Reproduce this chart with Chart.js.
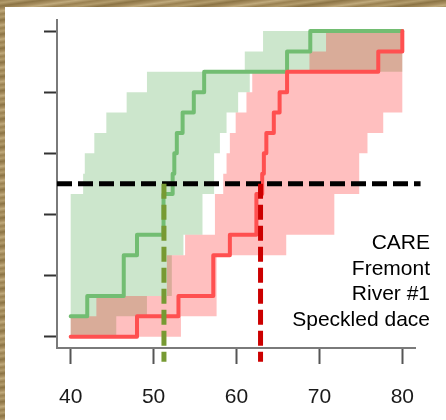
<!DOCTYPE html>
<html><head><meta charset="utf-8">
<script src="https://cdn.jsdelivr.net/npm/chart.js@4.4.0/dist/chart.umd.min.js"></script>
<style>
html,body{margin:0;padding:0;width:446px;height:420px;overflow:hidden;}
body{position:relative;background:#a38a5c;
 background-image:repeating-linear-gradient(172deg,#9a8151 0px,#b39c6c 3px,#8c7445 6px,#a88f60 9px,#c0aa7c 11px,#9a8151 14px);}
#paper{position:absolute;left:5px;top:7px;width:441px;height:413px;background:#fff;}
#c{position:absolute;left:0;top:0;}
#note{position:absolute;right:16px;top:229px;font:21px/25.7px "Liberation Sans",Arial,sans-serif;color:#000;text-align:right;white-space:nowrap;}
</style></head>
<body>
<div id="paper"></div>
<canvas id="c" width="446" height="420"></canvas>
<div id="note">CARE<br>Fremont<br>River #1<br>Speckled dace</div>
<script>
// ---- data (fish lengths, cumulative proportion in steps of 1/15) ----
const N = 15;
const xTicks = [40, 50, 60, 70, 80];
const yTicks = [0, 0.2, 0.4, 0.6, 0.8, 1.0];

// ECDF step lines: x where the step occurs, and count reached
const greenStepX = [40, 42.0, 46.4, 48.0, 51.2, 52.3, 52.5, 52.8, 53.5, 54.85, 56.1, 66.1, 68.9, 80];
const greenStepN = [1, 2, 4, 5, 7, 8, 9, 10, 11, 12, 13, 14, 15, 15];
const redStepX   = [40, 48.0, 53.0, 57.2, 59.2, 62.4, 63.1, 63.3, 63.6, 64.5, 65.2, 66.1, 77.1, 80];
const redStepN   = [0, 1, 2, 4, 5, 7, 8, 9, 10, 11, 12, 13, 14, 15];

// confidence bands: left and right x of each 1/15 strip (strip k spans k/15 .. (k+1)/15)
const greenBandLeft  = [40, 40, 40, 40, 40, 40, 40, 41.5, 41.7, 42.85, 44.3, 46.75, 49.2, 61.0, 63.2];
const greenBandRight = [45.5, 49.2, 52.2, 52.2, 53.6, 55.9, 55.9, 57.3, 57.3, 58.0, 58.8, 60.2, 61.6, 80, 80];
const redBandLeft    = [40, 43.1, 51.6, 51.6, 53.8, 57.4, 57.4, 58.4, 58.8, 59.2, 59.9, 61.2, 61.9, 68.8, 70.8];
const redBandRight   = [53.3, 57.6, 57.6, 57.6, 66.0, 71.8, 71.8, 74.8, 74.8, 75.8, 77.7, 80, 80, 80, 80];

// medians (length where cumulative proportion reaches 0.5)
const halfLevel = 0.5;
const greenMedian = 51.25;
const redMedian = 62.9;
const hLineRange = [38.35, 82.2];
const vLineBottom = -0.082;

// ---- build datasets ----
function stepPoints(xs, ns){ return xs.map((x,i)=>({x:x, y:ns[i]/N})); }
function bandPolygon(left, right){
  const pts=[];
  for(let k=0;k<left.length;k++){ pts.push({x:left[k],y:k/N}); pts.push({x:left[k],y:(k+1)/N}); }
  for(let k=right.length-1;k>=0;k--){ pts.push({x:right[k],y:(k+1)/N}); pts.push({x:right[k],y:k/N}); }
  return pts;
}
const none='rgba(0,0,0,0)';
const datasets=[
  {data:bandPolygon(greenBandLeft,greenBandRight), fill:'shape', backgroundColor:'rgba(0,128,0,0.2)', borderColor:none, borderWidth:1, pointRadius:0, order:10},
  {data:bandPolygon(redBandLeft,redBandRight), fill:'shape', backgroundColor:'rgba(255,0,0,0.25)', borderColor:none, borderWidth:1, pointRadius:0, order:9},
  {data:stepPoints(greenStepX,greenStepN), stepped:true, fill:false, borderColor:'#72bd72', borderWidth:4, pointRadius:0, borderJoinStyle:'round', borderCapStyle:'round', order:8},
  {data:stepPoints(redStepX,redStepN), stepped:true, fill:false, borderColor:'#ff5050', borderWidth:4, pointRadius:0, borderJoinStyle:'round', borderCapStyle:'round', order:7},
  {data:[{x:hLineRange[0],y:halfLevel},{x:hLineRange[1],y:halfLevel}], fill:false, borderColor:'#000', borderWidth:5, borderDash:[15,6], pointRadius:0, clip:false, order:6},
  {data:[{x:greenMedian,y:halfLevel},{x:greenMedian,y:vLineBottom}], fill:false, borderColor:'#779a33', borderWidth:5, borderDash:[15,6], pointRadius:0, clip:false, order:5},
  {data:[{x:redMedian,y:halfLevel},{x:redMedian,y:vLineBottom}], fill:false, borderColor:'#cc0000', borderWidth:5, borderDash:[15,6], pointRadius:0, clip:false, order:4}
];

new Chart(document.getElementById('c'),{
  type:'line',
  data:{datasets:datasets},
  options:{
    responsive:false, animation:false,
    layout:{padding:{left:0,top:20,right:31,bottom:0}},
    plugins:{legend:{display:false},tooltip:{enabled:false}},
    elements:{line:{tension:0}},
    scales:{
      x:{type:'linear', min:38.35, max:81.53,
        afterBuildTicks:(s)=>{s.ticks=xTicks.map(v=>({value:v}));},
        afterFit:(s)=>{s.height=72;},
        grid:{drawOnChartArea:false, drawTicks:true, tickLength:16, tickWidth:2, tickColor:'#555'},
        border:{display:true, color:'#7a7a7a', width:2},
        ticks:{padding:21, color:'#1a1a1a', font:{family:'"Liberation Sans", Arial, sans-serif', size:21}, maxRotation:0}
      },
      y:{type:'linear', min:-0.037, max:1.036,
        afterBuildTicks:(s)=>{s.ticks=yTicks.map(v=>({value:v}));},
        afterFit:(s)=>{s.width=57;},
        grid:{drawOnChartArea:false, drawTicks:true, tickLength:13, tickWidth:2, tickColor:'#333'},
        border:{display:true, color:'#7a7a7a', width:2},
        ticks:{callback:()=>'', padding:0}
      }
    }
  }
});
</script>
</body></html>
